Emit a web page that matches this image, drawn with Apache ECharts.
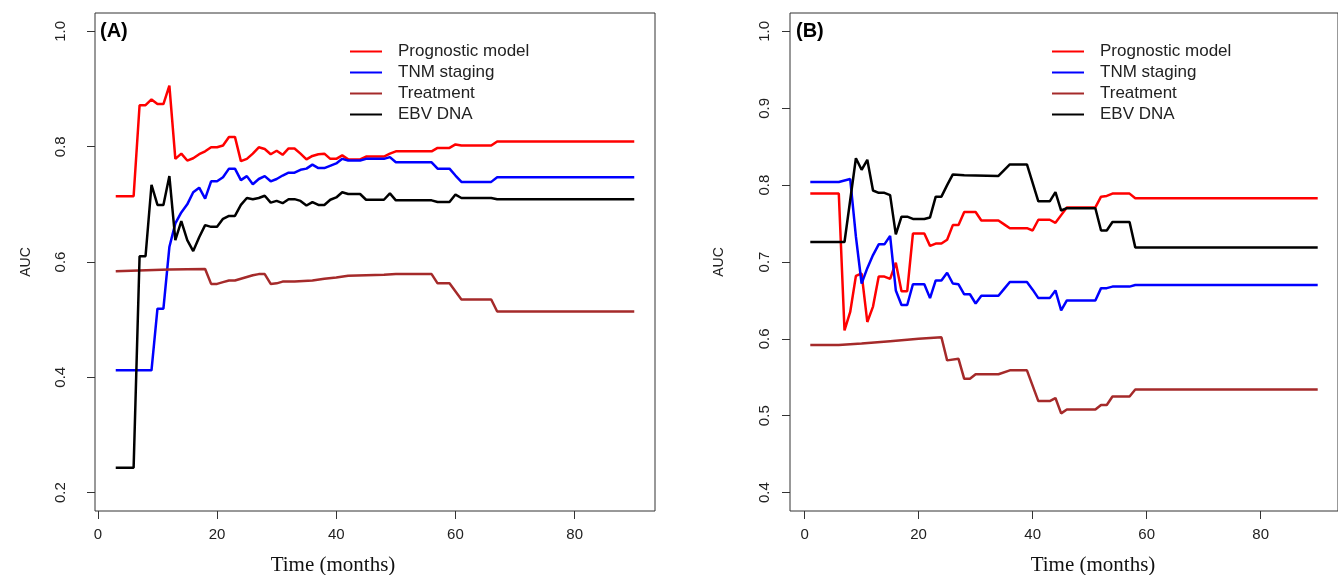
<!DOCTYPE html>
<html lang="en">
<head>
    <meta charset="UTF-8">
    <script type="text/javascript" src="https://cdn.jsdelivr.net/npm/echarts@6.0.0/dist/echarts.min.js"></script>
    <style>
        html, body { margin: 0; padding: 0; background: #fff; }
        #main { width: 1338px; height: 575px; }
    </style>
</head>
<body>
    <div id="main"></div>

    <script type="text/javascript">
        // series names
        var names = ['Prognostic model', 'TNM staging', 'Treatment', 'EBV DNA'];
        var colors = ['#ff0000', '#0000ff', '#a52a2a', '#000000'];

        // tick labels
        var xTicks = [0, 20, 40, 60, 80];
        var yTicksA = [0.2, 0.4, 0.6, 0.8, 1.0];
        var yTicksB = [0.4, 0.5, 0.6, 0.7, 0.8, 0.9, 1.0];

        // panel (A): [month, AUC]
        var aModel = [[3,0.714],[6,0.714],[7,0.872],[8,0.872],[9,0.882],[10,0.874],[11,0.874],[12,0.906],[13,0.779],[14,0.788],[15,0.776],[16,0.780],[17,0.787],[18,0.792],[19,0.799],[20,0.799],[21,0.802],[22,0.817],[23,0.817],[24,0.775],[25,0.779],[26,0.788],[27,0.799],[28,0.796],[29,0.787],[30,0.793],[31,0.786],[32,0.797],[33,0.797],[34,0.788],[35,0.778],[36,0.784],[37,0.787],[38,0.788],[39,0.779],[40,0.779],[41,0.785],[42,0.778],[44,0.778],[45,0.783],[48,0.783],[49,0.788],[50,0.792],[56,0.792],[57,0.798],[59,0.798],[60,0.804],[61,0.802],[66,0.802],[67,0.809],[90,0.809]];
        var aTnm = [[3,0.412],[9,0.412],[10,0.519],[11,0.519],[12,0.626],[13,0.667],[14,0.686],[15,0.700],[16,0.721],[17,0.729],[18,0.710],[19,0.740],[20,0.740],[21,0.747],[22,0.762],[23,0.762],[24,0.742],[25,0.749],[26,0.735],[27,0.744],[28,0.749],[29,0.740],[30,0.744],[31,0.750],[32,0.755],[33,0.755],[34,0.760],[35,0.762],[36,0.769],[37,0.763],[38,0.763],[40,0.771],[41,0.779],[42,0.776],[44,0.776],[45,0.779],[48,0.779],[49,0.782],[50,0.773],[56,0.773],[57,0.762],[59,0.762],[60,0.750],[61,0.739],[66,0.739],[67,0.747],[90,0.747]];
        var aTreat = [[3,0.584],[12,0.587],[18,0.588],[19,0.562],[20,0.562],[21,0.565],[22,0.568],[23,0.568],[24,0.571],[25,0.574],[26,0.577],[27,0.579],[28,0.579],[29,0.562],[30,0.563],[31,0.566],[33,0.566],[36,0.568],[38,0.571],[40,0.573],[42,0.576],[45,0.577],[48,0.578],[50,0.579],[56,0.579],[57,0.563],[59,0.563],[61,0.535],[66,0.535],[67,0.514],[90,0.514]];
        var aEbv = [[3,0.243],[6,0.243],[7,0.610],[8,0.610],[9,0.734],[10,0.699],[11,0.699],[12,0.749],[13,0.638],[14,0.671],[15,0.638],[16,0.619],[17,0.643],[18,0.664],[19,0.661],[20,0.661],[21,0.675],[22,0.680],[23,0.680],[24,0.699],[25,0.711],[26,0.709],[27,0.711],[28,0.715],[29,0.703],[30,0.706],[31,0.702],[32,0.709],[33,0.709],[34,0.706],[35,0.698],[36,0.704],[37,0.699],[38,0.699],[39,0.708],[40,0.712],[41,0.721],[42,0.718],[44,0.718],[45,0.708],[48,0.708],[49,0.719],[50,0.707],[56,0.707],[57,0.704],[59,0.704],[60,0.717],[61,0.711],[66,0.711],[67,0.709],[90,0.709]];

        // panel (B): [month, AUC]
        var bModel = [[1,0.789],[6,0.789],[7,0.611],[8,0.635],[9,0.682],[10,0.685],[11,0.622],[12,0.642],[13,0.681],[14,0.681],[15,0.678],[16,0.699],[17,0.662],[18,0.662],[19,0.737],[21,0.737],[22,0.721],[23,0.724],[24,0.724],[25,0.729],[26,0.748],[27,0.748],[28,0.765],[30,0.765],[31,0.754],[34,0.754],[35,0.749],[36,0.744],[39,0.744],[40,0.741],[41,0.755],[43,0.755],[44,0.751],[45,0.761],[46,0.771],[51,0.771],[52,0.785],[53,0.786],[54,0.789],[57,0.789],[58,0.783],[90,0.783]];
        var bTnm = [[1,0.804],[6,0.804],[7,0.806],[8,0.808],[9,0.733],[10,0.672],[11,0.692],[12,0.709],[13,0.723],[14,0.723],[15,0.734],[16,0.663],[17,0.644],[18,0.644],[19,0.671],[21,0.671],[22,0.653],[23,0.676],[24,0.676],[25,0.686],[26,0.672],[27,0.671],[28,0.658],[29,0.658],[30,0.646],[31,0.656],[34,0.656],[35,0.665],[36,0.674],[39,0.674],[40,0.664],[41,0.653],[43,0.653],[44,0.663],[45,0.637],[46,0.650],[51,0.650],[52,0.666],[53,0.666],[54,0.668],[57,0.668],[58,0.670],[90,0.670]];
        var bTreat = [[1,0.592],[6,0.592],[10,0.594],[15,0.597],[20,0.600],[24,0.602],[25,0.572],[27,0.574],[28,0.548],[29,0.548],[30,0.554],[34,0.554],[36,0.559],[39,0.559],[41,0.519],[43,0.519],[44,0.523],[45,0.503],[46,0.508],[51,0.508],[52,0.514],[53,0.514],[54,0.525],[57,0.525],[58,0.534],[90,0.534]];
        var bEbv = [[1,0.726],[7,0.726],[9,0.835],[10,0.820],[11,0.833],[12,0.793],[13,0.790],[14,0.790],[15,0.787],[16,0.736],[17,0.759],[18,0.759],[19,0.756],[21,0.756],[22,0.758],[23,0.785],[24,0.785],[25,0.800],[26,0.814],[28,0.813],[34,0.812],[36,0.827],[39,0.827],[41,0.779],[43,0.779],[44,0.791],[45,0.767],[46,0.770],[51,0.770],[52,0.741],[53,0.741],[54,0.752],[57,0.752],[58,0.719],[90,0.719]];

        var panelA = [aModel, aTnm, aTreat, aEbv];
        var panelB = [bModel, bTnm, bTreat, bEbv];

        var sans = 'Liberation Sans, Arial, sans-serif';
        var serif = 'Liberation Serif, Times New Roman, serif';

        function xAxisOf(idx, min, max) {
            return {
                type: 'value', gridIndex: idx, min: min, max: max,
                axisLine: { show: false, onZero: false },
                axisTick: { show: true, customValues: xTicks, length: 8, lineStyle: { color: '#333' } },
                axisLabel: { customValues: xTicks, margin: 16, fontFamily: sans, fontSize: 15, color: '#222' },
                splitLine: { show: false }
            };
        }
        function yAxisOf(idx, min, max, ticks, margin, gap) {
            return {
                type: 'value', gridIndex: idx, min: min, max: max,
                name: 'AUC', nameLocation: 'middle', nameGap: gap, nameRotate: 90,
                nameTextStyle: { fontFamily: sans, fontSize: 14, color: '#222' },
                axisLine: { show: false, onZero: false },
                axisTick: { show: true, customValues: ticks, length: 8, lineStyle: { color: '#333' } },
                axisLabel: {
                    customValues: ticks, rotate: 90, margin: margin,
                    fontFamily: sans, fontSize: 15, color: '#222',
                    formatter: function (v) { return v.toFixed(1); }
                },
                splitLine: { show: false }
            };
        }
        function legendOf(left) {
            return {
                data: names, orient: 'vertical', left: left, top: 38,
                icon: 'rect', itemWidth: 32, itemHeight: 2, itemGap: 4,
                lineStyle: { width: 1.5 },
                textStyle: { fontFamily: sans, fontSize: 17, color: '#222', lineHeight: 17, padding: [0, 0, 0, 11] },
                selectedMode: false
            };
        }

        var series = [];
        [panelA, panelB].forEach(function (panel, p) {
            panel.forEach(function (d, i) {
                series.push({
                    name: names[i], type: 'line', xAxisIndex: p, yAxisIndex: p,
                    data: d, symbol: 'none', smooth: false,
                    lineStyle: { color: colors[i], width: 2.5 },
                    itemStyle: { color: colors[i] }
                });
            });
        });

        var myChart = echarts.init(document.getElementById('main'));
        var option = {
            animation: false,
            backgroundColor: '#fff',
            grid: [
                { left: 95, top: 13, width: 560, height: 498, show: true, borderColor: '#333', borderWidth: 1 },
                { left: 790, top: 13, width: 559, height: 498, show: true, borderColor: '#333', borderWidth: 1 }
            ],
            xAxis: [xAxisOf(0, -0.48, 93.48), xAxisOf(1, -2.56, 93.56)],
            yAxis: [yAxisOf(0, 0.168, 1.032, yTicksA, 27, 62), yAxisOf(1, 0.376, 1.024, yTicksB, 18, 64)],
            legend: [legendOf(345), legendOf(1047)],
            graphic: [
                { type: 'text', left: 100, top: 21, style: { text: '(A)', font: 'bold 20px ' + sans, fill: '#000' } },
                { type: 'text', left: 796, top: 21, style: { text: '(B)', font: 'bold 20px ' + sans, fill: '#000' } },
                { type: 'text', x: 333, y: 565, style: { text: 'Time (months)', font: '21px ' + serif, fill: '#111', align: 'center', verticalAlign: 'middle' } },
                { type: 'text', x: 1093, y: 565, style: { text: 'Time (months)', font: '21px ' + serif, fill: '#111', align: 'center', verticalAlign: 'middle' } }
            ],
            series: series
        };
        myChart.setOption(option);
    </script>
</body>
</html>
